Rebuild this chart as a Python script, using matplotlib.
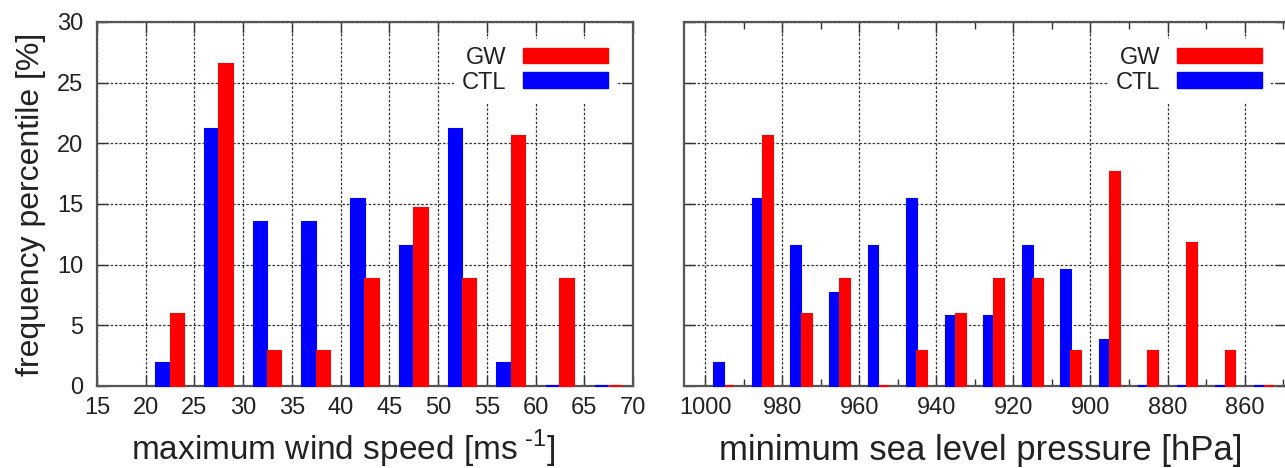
import matplotlib
matplotlib.use('Agg')
import matplotlib.pyplot as plt
from matplotlib.patches import Patch
from matplotlib.ticker import MultipleLocator
import numpy as np

plt.rcParams['font.family'] = ['Liberation Sans', 'DejaVu Sans']
plt.rcParams['mathtext.fontset'] = 'custom'
plt.rcParams['mathtext.rm'] = 'Liberation Sans'

# left panel: maximum wind speed bins (lower edge, 5 m/s wide)
wind_bins = [20, 25, 30, 35, 40, 45, 50, 55, 60, 65]
wind_ctl = [1.9, 21.2, 13.5, 13.5, 15.4, 11.5, 21.2, 1.9, 0.0, 0.0]
wind_gw = [5.9, 26.5, 2.9, 2.9, 8.8, 14.7, 8.8, 20.6, 8.8, 0.0]

# right panel: minimum sea level pressure bins (upper edge, 10 hPa wide)
slp_bins = [1000, 990, 980, 970, 960, 950, 940, 930, 920, 910, 900, 890, 880, 870, 860]
slp_ctl = [1.9, 15.4, 11.5, 7.7, 11.5, 15.4, 5.8, 5.8, 11.5, 9.6, 3.8, 0.0, 0.0, 0.0, 0.0]
slp_gw = [0.0, 20.6, 5.9, 8.8, 0.0, 2.9, 5.9, 8.8, 8.8, 2.9, 17.6, 2.9, 11.8, 2.9, 0.0]

RED = '#ff0000'
BLUE = '#0000ff'
TXT = '#222222'
GRID = dict(color='#333333', linestyle=(0, (2, 1.5)), linewidth=0.9)

fig = plt.figure(figsize=(12.85, 4.68), dpi=100)
W, H = 1285, 468
ax1 = fig.add_axes([97 / W, 82 / H, 536 / W, 364 / H])
ax2 = fig.add_axes([684 / W, 82 / H, 603 / W, 364 / H])
XLAB_Y = (8 - 82) / 364  # baseline of the x labels, axes coords


def style(ax):
    for s in ax.spines.values():
        s.set_color('#555555')
        s.set_linewidth(1.6)
    ax.tick_params(which='both', direction='in', top=True, right=True,
                   color='#333333', labelsize=17, labelcolor=TXT)
    ax.tick_params(which='major', length=8, width=1.0)
    ax.tick_params(which='minor', length=5, width=1.0)
    ax.tick_params(axis='x', pad=8)
    ax.tick_params(axis='y', pad=10)
    ax.set_ylim(0, 30)
    ax.yaxis.set_major_locator(MultipleLocator(5))
    ax.grid(True, which='major', **GRID)
    ax.set_axisbelow(True)


def draw_legend(ax):
    handles = [Patch(facecolor=RED, edgecolor=RED), Patch(facecolor=BLUE, edgecolor=BLUE)]
    leg = ax.legend(handles, ['GW', 'CTL'], loc='upper right', markerfirst=False,
                    fontsize=17, handlelength=3.6, handleheight=0.65,
                    handletextpad=0.7, labelspacing=0.12, borderpad=0.35,
                    borderaxespad=0.7, frameon=True, fancybox=False)
    leg.get_frame().set_facecolor('white')
    leg.get_frame().set_edgecolor('none')
    leg.get_frame().set_alpha(1.0)
    for t in leg.get_texts():
        t.set_color(TXT)


# left panel
style(ax1)
x = np.array(wind_bins) + 2.5
w = 5 * 0.275
ax1.bar(x - w / 2 - 0.05, wind_ctl, width=w, color=BLUE, edgecolor=BLUE, linewidth=1.5,
        clip_on=False, zorder=3)
ax1.bar(x + w / 2 + 0.05, wind_gw, width=w, color=RED, edgecolor=RED, linewidth=1.5,
        clip_on=False, zorder=3)
ax1.set_xlim(15, 70)
ax1.xaxis.set_major_locator(MultipleLocator(5))
ax1.set_ylabel('frequency percentile [%]', fontsize=23, color=TXT, labelpad=8)
ax1.set_xlabel(r'maximum wind speed [ms$^{\ \text{-1}}$]', fontsize=24, color=TXT,
               va='baseline')
ax1.xaxis.set_label_coords(0.459, XLAB_Y)
draw_legend(ax1)

# right panel (reversed pressure axis)
style(ax2)
p = np.array(slp_bins) - 5
wp = 10 * 0.255
ax2.bar(p + wp / 2 + 0.05, slp_ctl, width=wp, color=BLUE, edgecolor=BLUE, linewidth=1.5,
        clip_on=False, zorder=3)
ax2.bar(p - wp / 2 - 0.05, slp_gw, width=wp, color=RED, edgecolor=RED, linewidth=1.5,
        clip_on=False, zorder=3)
ax2.set_xlim(1005.5, 849)
ax2.xaxis.set_major_locator(MultipleLocator(20))
ax2.xaxis.set_minor_locator(MultipleLocator(10))
ax2.tick_params(axis='y', labelleft=False)
ax2.set_xlabel('minimum sea level pressure [hPa]', fontsize=25, color=TXT, va='baseline')
ax2.xaxis.set_label_coords(0.4925, XLAB_Y)
draw_legend(ax2)

fig.savefig('out.png', dpi=100, facecolor='white')
